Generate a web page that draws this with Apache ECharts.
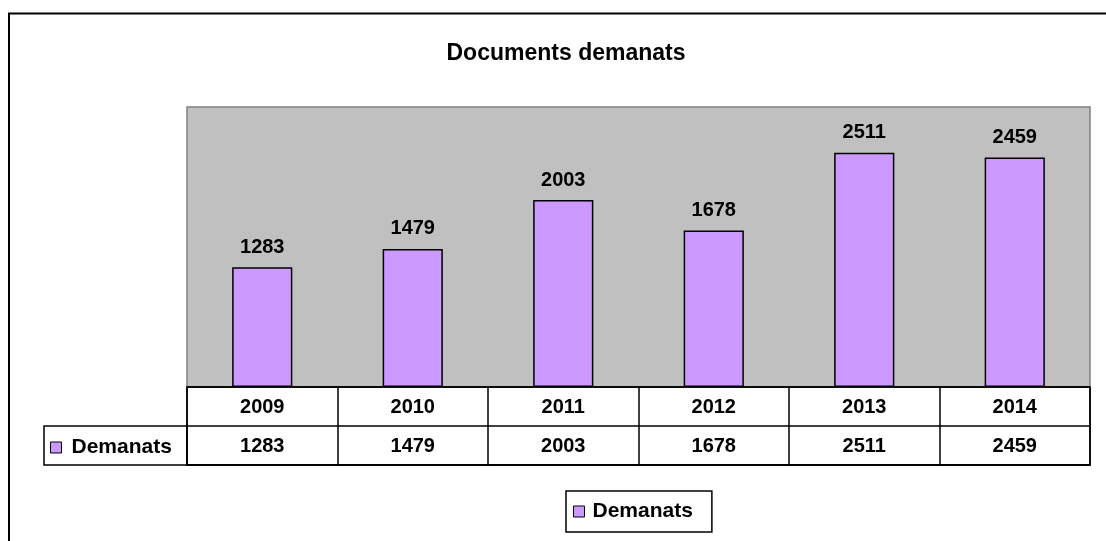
<!DOCTYPE html>
<html>
<head>
<meta charset="utf-8">
<script src="https://cdn.jsdelivr.net/npm/echarts@6/dist/echarts.min.js"></script>
<style>
  html, body { margin: 0; padding: 0; background: #fff; }
  #chart { width: 1106px; height: 541px; }
</style>
</head>
<body>
<div id="chart"></div>
<script>
// data
var years = ['2009', '2010', '2011', '2012', '2013', '2014'];
var demanats = [1283, 1479, 2003, 1678, 2511, 2459];
var seriesName = 'Demanats';

var FONT = "'Liberation Sans', Arial, sans-serif";
var chart = echarts.init(document.getElementById('chart'));

chart.setOption({
    animation: false,
    backgroundColor: '#ffffff',
    title: {
        text: 'Documents demanats',
        left: 561,
        top: 37,
        textAlign: 'center',
        textStyle: { fontFamily: FONT, fontWeight: 'bold', fontSize: 23, color: '#000' }
    },
    legend: [{
        // legend key inside the data table
        data: [seriesName],
        left: 50,
        top: 437,
        padding: 0,
        icon: 'rect',
        itemWidth: 11,
        itemHeight: 11,
        itemStyle: { borderColor: '#000', borderWidth: 1 },
        textStyle: { fontFamily: FONT, fontWeight: 'bold', fontSize: 21, color: '#000', padding: [0, 0, 0, 5] },
        selectedMode: false
    }, {
        // bottom legend
        data: [seriesName],
        left: 566,
        top: 491,
        padding: [10, 19, 10, 7],
        icon: 'rect',
        itemWidth: 11,
        itemHeight: 11,
        itemStyle: { borderColor: '#000', borderWidth: 1 },
        borderColor: '#000',
        borderWidth: 1.5,
        backgroundColor: '#fff',
        textStyle: { fontFamily: FONT, fontWeight: 'bold', fontSize: 21, color: '#000', padding: [0, 0, 0, 3] },
        selectedMode: false
    }],
    grid: [{
        left: 187, top: 107, width: 903, height: 280,
        show: true, backgroundColor: '#c0c0c0', borderColor: '#808080', borderWidth: 1.5
    }, {
        left: 187, top: 387, width: 903, height: 78,
        show: true, backgroundColor: '#fff', borderColor: '#000', borderWidth: 1.5
    }],
    xAxis: [{
        gridIndex: 0,
        type: 'category',
        data: years,
        axisLine: { show: false },
        axisTick: { show: false },
        axisLabel: { show: false }
    }, {
        gridIndex: 1,
        type: 'category',
        data: years,
        position: 'top',
        axisLine: { show: true, lineStyle: { color: '#000', width: 1.5 } },
        axisTick: { show: false },
        splitLine: { show: true, interval: 0, lineStyle: { color: '#000', width: 1.5 } },
        axisLabel: {
            inside: true, margin: 20, verticalAlign: 'middle', interval: 0,
            fontFamily: FONT, fontWeight: 'bold', fontSize: 20, color: '#000'
        }
    }, {
        gridIndex: 1,
        type: 'category',
        data: demanats.map(String),
        position: 'bottom',
        axisLine: { show: false },
        axisTick: { show: false },
        axisLabel: {
            inside: true, margin: 19, verticalAlign: 'middle', interval: 0,
            fontFamily: FONT, fontWeight: 'bold', fontSize: 20, color: '#000'
        }
    }],
    yAxis: [{
        gridIndex: 0,
        type: 'value',
        min: 0,
        max: 3000,
        show: false,
        splitLine: { show: false }
    }, {
        gridIndex: 1,
        type: 'value',
        min: 0,
        max: 2,
        interval: 1,
        axisLine: { show: false },
        axisTick: { show: false },
        axisLabel: { show: false },
        splitLine: { show: true, lineStyle: { color: '#000', width: 1.5 } }
    }],
    graphic: [{
        // outer chart border
        type: 'rect',
        shape: { x: 9, y: 13.5, width: 1200, height: 600 },
        style: { fill: 'none', stroke: '#000', lineWidth: 2 },
        silent: true
    }, {
        // legend key cell of the data table
        type: 'rect',
        shape: { x: 44, y: 426, width: 143, height: 39 },
        style: { fill: 'none', stroke: '#000', lineWidth: 1.5 },
        silent: true,
        z: 10
    }],
    series: [{
        name: seriesName,
        type: 'bar',
        xAxisIndex: 0,
        yAxisIndex: 0,
        data: demanats,
        barWidth: '40%',
        itemStyle: { color: '#cc99ff', borderColor: '#000', borderWidth: 1.5 },
        label: {
            show: true,
            position: 'top',
            distance: 10,
            fontFamily: FONT,
            fontWeight: 'bold',
            fontSize: 20,
            color: '#000'
        }
    }]
});
</script>
</body>
</html>
